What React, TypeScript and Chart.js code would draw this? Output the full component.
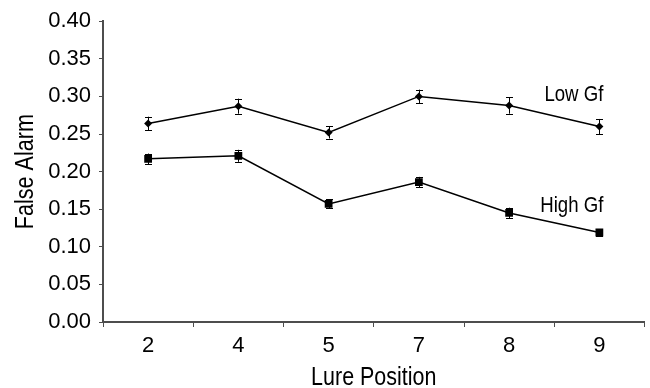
import React, { useEffect, useRef } from "react";
import { Chart, registerables } from "chart.js";

Chart.register(...registerables);

const categories = ["2", "4", "5", "7", "8", "9"];
const lowGf = [0.264, 0.287, 0.252, 0.3, 0.288, 0.26];
const lowGfErr = [0.009, 0.01, 0.008, 0.009, 0.011, 0.01];
const highGf = [0.217, 0.221, 0.157, 0.186, 0.145, 0.119];
const highGfErr = [0.007, 0.008, 0.006, 0.007, 0.007, 0.004];
const seriesNames = ["Low Gf", "High Gf"];
const xTitle = "Lure Position";
const yTitle = "False Alarm";
const yMin = 0;
const yMax = 0.4;
const yStep = 0.05;

const FONT = "'Liberation Sans', Arial, sans-serif";
const TEXT = "#000000";
const AXIS = "#4d4d4d";

// draws horizontally condensed text (the original uses a condensed face)
function narrowText(
  ctx: CanvasRenderingContext2D,
  text: string,
  x: number,
  y: number,
  size: number,
  squeeze: number,
  align: CanvasTextAlign,
  rotate = 0
) {
  ctx.save();
  ctx.translate(x, y);
  if (rotate) ctx.rotate(rotate);
  ctx.scale(squeeze, 1);
  ctx.font = `${size}px ${FONT}`;
  ctx.fillStyle = TEXT;
  ctx.textAlign = align;
  ctx.textBaseline = "alphabetic";
  ctx.fillText(text, 0, 0);
  ctx.restore();
}

const errorBarPlugin = {
  id: "errorBars",
  afterDatasetsDraw(chart: any) {
    const ctx = chart.ctx;
    const yScale = chart.scales.y;
    const errs = [lowGfErr, highGfErr];
    ctx.save();
    ctx.strokeStyle = "#000";
    ctx.lineWidth = 1;
    chart.data.datasets.forEach((ds: any, i: number) => {
      const meta = chart.getDatasetMeta(i);
      meta.data.forEach((pt: any, j: number) => {
        const v = ds.data[j];
        const e = errs[i][j];
        const x = Math.round(pt.x) + 0.5;
        const yT = yScale.getPixelForValue(v + e);
        const yB = yScale.getPixelForValue(v - e);
        ctx.beginPath();
        ctx.moveTo(x, yT);
        ctx.lineTo(x, yB);
        ctx.moveTo(x - 3.5, Math.round(yT) + 0.5);
        ctx.lineTo(x + 3.5, Math.round(yT) + 0.5);
        ctx.moveTo(x - 3.5, Math.round(yB) + 0.5);
        ctx.lineTo(x + 3.5, Math.round(yB) + 0.5);
        ctx.stroke();
      });
    });
    ctx.restore();
  },
};

const textPlugin = {
  id: "texts",
  afterDraw(chart: any) {
    const ctx = chart.ctx;
    const area = chart.chartArea;
    const xScale = chart.scales.x;
    // series labels, next to each line's last point (baseline offsets)
    const offsets = [-25, -21];
    chart.data.datasets.forEach((ds: any, i: number) => {
      const meta = chart.getDatasetMeta(i);
      const last = meta.data[meta.data.length - 1];
      narrowText(ctx, seriesNames[i], last.x + 4, last.y + offsets[i], 22.3, 0.835, "right");
    });
    // axis titles
    narrowText(ctx, xTitle, (area.left + area.right) / 2, xScale.bottom - 3, 26.5, 0.81, "center");
    narrowText(ctx, yTitle, 33, (area.top + area.bottom) / 2, 26, 0.83, "center", -Math.PI / 2);
  },
};

export default function App() {
  const ref = useRef<HTMLCanvasElement>(null);

  useEffect(() => {
    document.body.style.margin = "0";
    const canvas = ref.current!;
    const chart = new Chart(canvas, {
      type: "line",
      data: {
        labels: categories,
        datasets: [
          {
            label: seriesNames[0],
            data: lowGf,
            borderColor: "#000",
            backgroundColor: "#000",
            borderWidth: 1.5,
            pointStyle: "rectRot",
            pointRadius: 4,
            pointBorderWidth: 0,
            tension: 0,
          },
          {
            label: seriesNames[1],
            data: highGf,
            borderColor: "#000",
            backgroundColor: "#000",
            borderWidth: 1.5,
            pointStyle: "rect",
            pointRadius: 5.5,
            pointBorderWidth: 0,
            tension: 0,
          },
        ],
      },
      options: {
        responsive: false,
        animation: false,
        layout: { padding: { left: 0, right: 2, top: 20, bottom: 0 } },
        plugins: {
          legend: { display: false },
          tooltip: { enabled: false },
        },
        scales: {
          x: {
            type: "category",
            offset: true,
            afterFit: (s: any) => {
              s.height = 66;
            },
            grid: {
              display: true,
              drawOnChartArea: false,
              drawTicks: true,
              tickLength: 5,
              offset: true,
              color: AXIS,
              lineWidth: 1,
            },
            border: { display: true, color: AXIS, width: 2 },
            ticks: {
              color: TEXT,
              font: { family: FONT, size: 22 },
              padding: 6,
              maxRotation: 0,
            },
          },
          y: {
            min: yMin,
            max: yMax,
            afterFit: (s: any) => {
              s.width = 103;
            },
            grid: {
              display: true,
              drawOnChartArea: false,
              drawTicks: true,
              tickLength: 4,
              color: AXIS,
              lineWidth: 1,
            },
            border: { display: true, color: AXIS, width: 2 },
            ticks: {
              stepSize: yStep,
              color: TEXT,
              font: { family: FONT, size: 22 },
              padding: 8,
              callback: (v: any) => Number(v).toFixed(2),
            },
          },
        },
      },
      plugins: [errorBarPlugin, textPlugin],
    } as any);
    return () => chart.destroy();
  }, []);

  return (
    <div style={{ width: 650, height: 388 }}>
      <canvas ref={ref} width={650} height={388} style={{ display: "block" }} />
    </div>
  );
}
